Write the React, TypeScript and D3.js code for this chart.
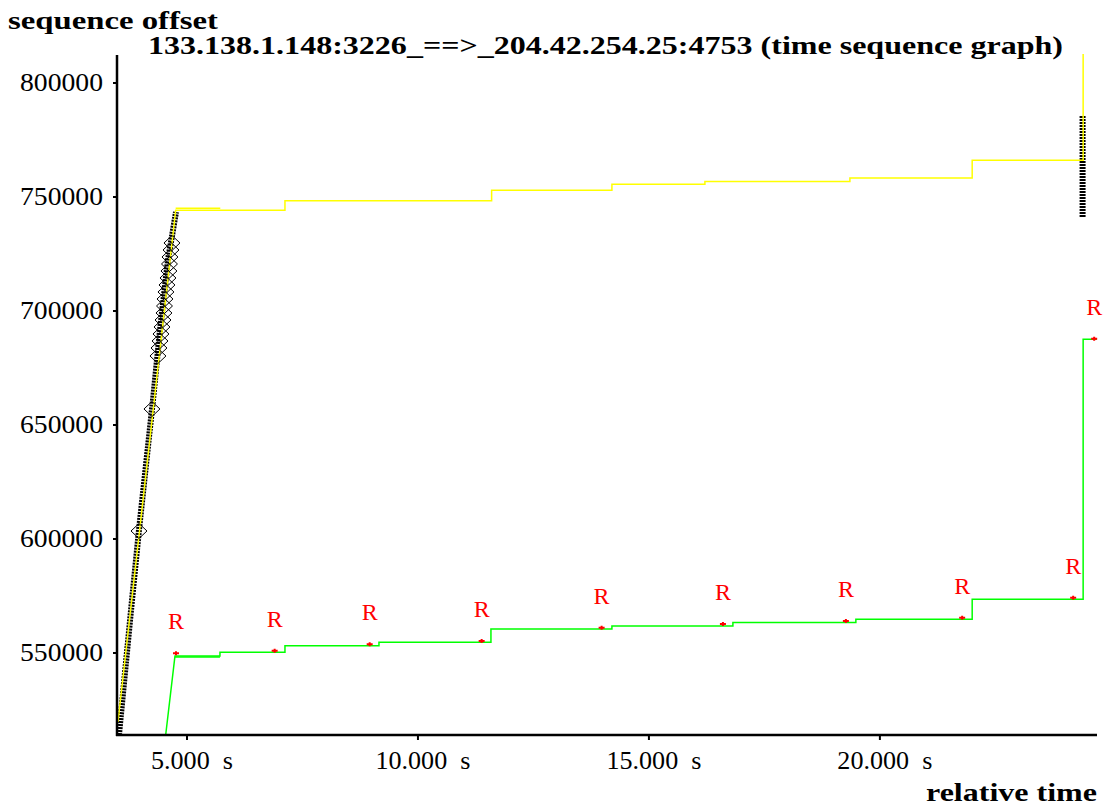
import React from 'react';
import * as d3 from 'd3';

// tcptrace-style time sequence graph
const W = 1104;
const H = 807;

const xTicks = [5, 10, 15, 20];
const yTicks = [550000, 600000, 650000, 700000, 750000, 800000];

// yellow: receive window line (time s, sequence offset)
const winTimes = [3.506, 4.755, 7.121, 7.121, 11.595, 11.595, 14.199, 14.199, 16.212, 16.212, 19.351, 19.351, 21.998, 21.998, 24.4, 24.4];
const winSeq = [519737, 744168, 744168, 748379, 748379, 752940, 752940, 755572, 755572, 756800, 756800, 758300, 758300, 766098, 766098, 812721];
// short second window line right after the ramp
const win2Times = [4.755, 5.721];
const win2Seq = [745045, 745045];

// green: ack line
const ackTimes = [4.539, 4.74, 5.714, 5.714, 7.121, 7.121, 9.156, 9.156, 11.58, 11.58, 14.199, 14.199, 16.818, 16.818, 19.48, 19.48, 21.998, 21.998, 24.4, 24.4, 24.697];
const ackSeq = [514035, 548684, 548684, 550307, 550307, 553202, 553202, 554693, 554693, 560526, 560526, 561842, 561842, 563377, 563377, 564781, 564781, 573553, 573553, 687589, 687589];
const ack2Times = [4.74, 5.714];
const ack2Seq = [548300, 548300];

// red R markers (duplicate acks)
const rTimes = [4.762, 6.898, 8.955, 11.379, 13.976, 16.602, 19.264, 21.781, 24.184, 24.639];
const rSeq = [549868, 551009, 553816, 555263, 561097, 562719, 564035, 565482, 574254, 687852];

// black: data segments sent
const sendTimes = [3.528, 3.81, 3.961, 4.264, 4.416, 4.589, 4.762];
const sendSeq = [514035, 573246, 603948, 660966, 691668, 722370, 743423];
const lateSendTimes = [24.388, 24.388];
const lateSendSeq = [741230, 785967];

// diamonds: retransmitted segments
const diaTimes = [3.961, 4.242, 4.372, 4.394, 4.416, 4.437, 4.459, 4.481, 4.502, 4.513, 4.524, 4.545, 4.567, 4.589, 4.61, 4.621, 4.632, 4.654, 4.675];
const diaSeq = [603509, 657018, 680264, 683773, 686843, 689913, 692984, 696054, 699124, 702194, 705264, 708335, 711405, 714475, 717545, 720615, 723686, 726756, 729826];

const FONT = '"Liberation Serif", "Times New Roman", Times, serif';

export default function App() {
  const x = d3.scaleLinear().domain([3.485, 24.7]).range([117, 1097]);
  const y = d3.scaleLinear().domain([514035, 812281]).range([735, 55]);

  const line = d3.line<[number, number]>().x(d => x(d[0])).y(d => y(d[1]));
  const pts = (ts: number[], vs: number[]) => ts.map((t, i) => [t, vs[i]] as [number, number]);

  const bold = { fontFamily: FONT, fontWeight: 700 as const };

  return (
    <svg width={W} height={H} style={{ position: 'absolute', left: 0, top: 0, background: '#fff' }} fontFamily={FONT}>
      {/* black data segments */}
      <path d={line(pts(sendTimes, sendSeq)) || ''} fill="none" stroke="#000" strokeWidth={6} strokeDasharray="2 1" />
      <path d={line(pts(lateSendTimes, lateSendSeq)) || ''} fill="none" stroke="#000" strokeWidth={6} strokeDasharray="2 1" />

      {/* yellow window */}
      <path d={line(pts(winTimes, winSeq)) || ''} fill="none" stroke="#ffff00" strokeWidth={1.5} />
      <path d={line(pts(win2Times, win2Seq)) || ''} fill="none" stroke="#ffff00" strokeWidth={1.5} />

      {/* green ack */}
      <path d={line(pts(ackTimes, ackSeq)) || ''} fill="none" stroke="#00ff00" strokeWidth={1.5} />
      <path d={line(pts(ack2Times, ack2Seq)) || ''} fill="none" stroke="#00ff00" strokeWidth={1.5} />

      {/* diamonds */}
      {diaTimes.map((t, i) => {
        const cx = x(t);
        const cy = y(diaSeq[i]);
        return (
          <path key={i} d={`M${cx - 8},${cy} L${cx},${cy - 7.5} L${cx + 8},${cy} L${cx},${cy + 7.5} Z`} fill="none" stroke="#000" strokeWidth={1} />
        );
      })}

      {/* R markers */}
      {rTimes.map((t, i) => {
        const cx = x(t);
        const cy = y(rSeq[i]);
        return (
          <g key={i}>
            <path d={`M${cx - 3},${cy} L${cx + 3},${cy} M${cx},${cy - 2} L${cx},${cy + 2}`} stroke="#ff0000" strokeWidth={2} />
            <text x={cx} y={cy - 24} textAnchor="middle" fontSize={24} fill="#ff0000">R</text>
          </g>
        );
      })}

      {/* axes */}
      <line x1={117} y1={55} x2={117} y2={736} stroke="#000" strokeWidth={2.5} />
      <line x1={116} y1={735} x2={1097} y2={735} stroke="#000" strokeWidth={2.5} />
      {yTicks.map(v => (
        <g key={v}>
          <line x1={113} x2={117} y1={y(v)} y2={y(v)} stroke="#000" strokeWidth={2} />
          <text x={103} y={y(v) + 8} textAnchor="end" fontSize={25} fill="#000" textLength={83} lengthAdjust="spacingAndGlyphs">{v}</text>
        </g>
      ))}
      {xTicks.map(t => {
        const label = `${t.toFixed(3)}  s`;
        const len = t >= 10 ? 95 : 82;
        return (
          <g key={t}>
            <line x1={x(t)} x2={x(t)} y1={735} y2={740} stroke="#000" strokeWidth={2} />
            <text x={x(t) + 5} y={769} textAnchor="middle" fontSize={25} fill="#000" style={{ whiteSpace: 'pre' }} textLength={len} lengthAdjust="spacingAndGlyphs">{label}</text>
          </g>
        );
      })}

      {/* titles */}
      <text x={8} y={29} fontSize={25} style={bold} fill="#000" textLength={210} lengthAdjust="spacingAndGlyphs">sequence offset</text>
      <text x={148} y={54} fontSize={25} style={bold} fill="#000" textLength={915} lengthAdjust="spacingAndGlyphs">133.138.1.148:3226_==&gt;_204.42.254.25:4753 (time sequence graph)</text>
      <text x={926} y={801} fontSize={25} style={bold} fill="#000" textLength={171} lengthAdjust="spacingAndGlyphs">relative time</text>
    </svg>
  );
}
